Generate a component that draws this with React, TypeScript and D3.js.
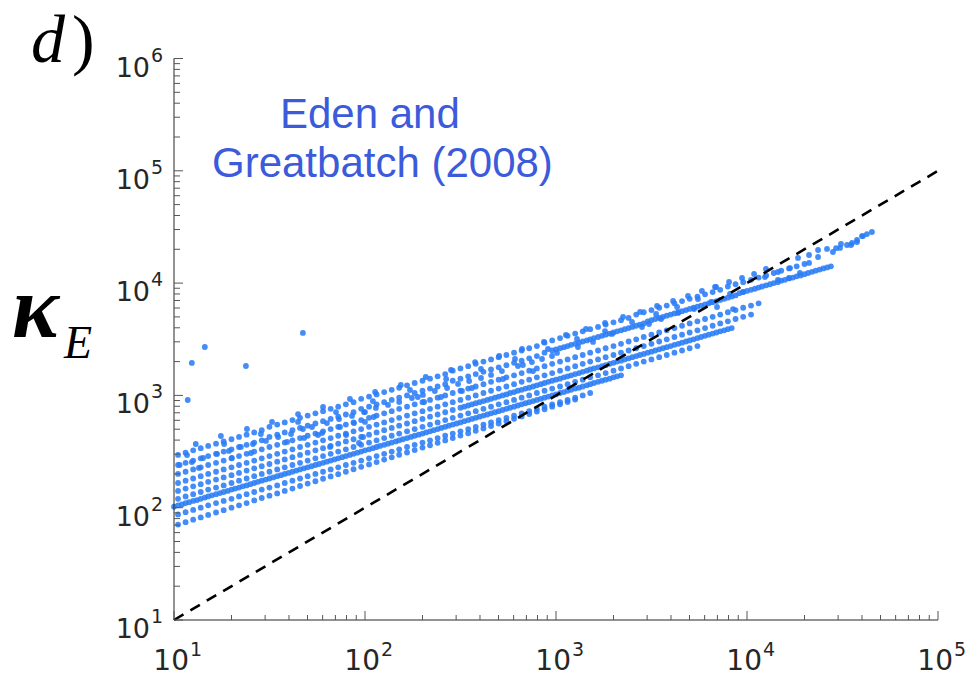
import React from "react";
import * as d3 from "d3";

// shared abscissa grid (x values of the regularly spaced model points)
const X_GRID = [
  10, 10.5, 11, 11.5, 12, 12.6, 13.2, 13.8, 14.5, 15.1, 15.8, 16.6, 17.4, 18.2, 19.1, 20, 20.9, 21.9, 22.9, 24, 25.1, 26.3, 27.5, 28.8, 30.2, 31.6, 33.1, 34.7, 36.3, 38, 39.8, 41.7, 43.7, 45.7, 47.9, 50.1, 52.5, 55, 57.5, 60.3, 63.1, 66.1, 69.2, 72.4, 75.9, 79.4, 83.2, 87.1, 91.2, 95.5,
  100, 105, 110, 115, 120, 126, 132, 138, 145, 151, 158, 166, 174, 182, 191, 200, 209, 219, 229, 240, 251, 263, 275, 288, 302, 316, 331, 347, 363, 380, 398, 417, 437, 457, 479, 501, 525, 550, 575, 603, 631, 661, 692, 724, 759, 794, 832, 871, 912, 955,
  1000, 1050, 1100, 1150, 1200, 1260, 1320, 1380, 1450, 1510, 1580, 1660, 1740, 1820, 1910, 2000, 2090, 2190, 2290, 2400, 2510, 2630, 2750, 2880, 3020, 3160, 3310, 3470, 3630, 3800, 3980, 4170, 4370, 4570, 4790, 5010, 5250, 5500, 5750, 6030, 6310, 6610, 6920, 7240, 7590, 7940, 8320, 8710, 9120, 9550,
  10000, 10500, 11000, 11500, 12000, 12600, 13200, 13800, 14500, 15100, 15800, 16600, 17400, 18200, 19100, 20000, 20900, 21900, 22900, 24000, 25100, 26300, 27500, 28800, 30200, 31600, 33100, 34700, 36300, 38000, 39800, 41700, 43700, 45700,
];

const ROW_A = [70.8, 74.3, 78.2, 82, 86.3, 90.6, 95.1, 100, 105, 110, 116, 122, 128, 134, 141, 148, 156, 164, 172, 181, 190, 199, 209, 220, 231, 243, 255, 268, 281, 296, 310, 326, 343, 360, 378, 397, 417, 439, 460, 484, 508, 533, 561, 589, 619, 650, 682, 718, 753, 793, 832, 873, 918];
const ROW_B = [87.1, 91.2, 95.5, 100, 105, 110, 115, 120, 126, 132, 138, 145, 151, 158, 166, 174, 182, 191, 200, 209, 219, 229, 240, 251, 263, 275, 288, 302, 316, 331, 347, 363, 380, 398, 417, 437, 457, 479, 501, 525, 550, 575, 603, 631, 661, 692, 724, 759, 794, 832, 871, 912, 955, 1000, 1050];
const ROW_C = [102, 105, 107, 110, 112, 115, 117, 120, 123, 126, 129, 132, 135, 138, 141, 145, 148, 151, 155, 158, 162, 166, 170, 174, 178, 182, 186, 191, 195, 200, 204, 209, 214, 219, 224, 229, 234, 240, 245, 251, 257, 263, 269, 275, 282, 288, 295, 302, 309, 316, 324, 331, 339, 347, 355, 363, 372, 380, 389, 398, 407, 417, 427, 437, 447, 457, 468, 479, 490, 501, 513, 525, 537, 550, 562, 575, 589, 603, 617, 631, 646, 661, 676, 692, 708, 724, 741, 759, 776, 794, 813, 832, 851, 871, 891, 912, 933, 955, 977, 1000, 1020, 1050, 1070, 1100, 1120, 1150, 1170, 1200, 1230, 1260, 1290, 1320, 1350, 1380, 1410, 1450, 1480, 1510];
const ROW_D = [120, 126, 132, 138, 145, 151, 158, 166, 174, 182, 191, 200, 209, 219, 229, 240, 251, 263, 275, 288, 302, 316, 331, 347, 363, 380, 398, 417, 437, 457, 479, 501, 525, 550, 575, 603, 631, 661, 692, 724, 759, 794, 832, 871, 912, 955, 1000, 1050, 1100, 1150, 1200, 1260, 1320, 1380, 1450, 1510, 1580, 1660, 1740, 1820, 1910, 2000, 2090, 2190, 2290, 2400, 2510, 2630, 2750];
const ROW_E1 = [141, 148, 155, 162, 170, 178, 186, 195, 204, 214, 224, 234, 245, 257, 269, 282, 295, 309, 324, 339, 355, 372, 389, 407, 427, 447, 468, 490, 513, 537, 562, 589, 617, 646, 676, 708, 741, 776];
const ROW_E2 = [794, 813, 832, 851, 871, 891, 912, 933, 955, 977, 1000, 1020, 1050, 1070, 1100, 1120, 1150, 1170, 1200, 1230, 1260, 1290, 1320, 1350, 1380, 1410, 1450, 1480, 1510, 1550, 1580, 1620, 1660, 1700, 1740, 1780, 1820, 1860, 1910, 1950, 2000, 2040, 2090, 2140, 2190, 2240, 2290, 2340, 2400, 2450, 2510, 2570, 2630, 2690, 2750, 2820, 2880, 2950, 3020, 3090, 3160, 3240, 3310, 3390, 3470, 3550, 3630, 3720, 3800, 3890, 3980];
const ROW_F = [166, 174, 182, 191, 200, 209, 219, 229, 240, 251, 263, 275, 288, 302, 316, 331, 347, 363, 380, 398, 417, 437, 457, 479, 501, 525, 550, 575, 603, 631, 661, 692, 724, 759, 794, 832, 871, 912, 955, 1000, 1050, 1100, 1150, 1200, 1260, 1320, 1380, 1450, 1510, 1580, 1660, 1740, 1820, 1910, 2000, 2090, 2190, 2290, 2400, 2510, 2630, 2750, 2880, 3020, 3160, 3310, 3470, 3630, 3800, 3980, 4170, 4370, 4570, 4790, 5010, 5250];
const ROW_G = [200, 209, 219, 229, 240, 251, 263, 275, 288, 302, 316, 331, 347, 363, 380, 398, 417, 437, 457, 479, 501, 525, 550, 575, 603, 631, 661, 692, 724, 759, 794, 832, 871, 912, 955, 1000, 1050, 1100, 1150, 1200, 1260, 1320, 1380, 1450, 1510, 1580, 1660, 1740, 1820, 1910, 2000, 2090, 2190, 2290, 2400, 2510, 2630, 2750, 2880, 3020, 3160, 3310, 3470, 3630, 3800, 3980, 4170, 4370, 4570, 4790, 5010, 5250, 5500, 5750, 6030, 6310, 6610];
const ROW_H1 = [240, 251, 263, 275, 288, 302, 316, 331, 347, 363, 380, 398, 427, 447, 468, 490, 513, 537, 562, 589, 617, 646, 676, 708, 759, 794, 832, 871, 912, 955, 1000, 1050, 1100, 1150, 1200, 1260, 1350, 1410, 1480, 1550, 1620, 1700, 1780, 1860, 1950, 2040, 2140, 2240, 2400, 2510];
const ROW_H2 = [2570, 2630, 2690, 2750, 2820, 2880, 2950, 3020, 3090, 3160, 3240, 3310, 3390, 3470, 3550, 3630, 3720, 3800, 3890, 3980, 4070, 4170, 4270, 4370, 4570, 4680, 4790, 4900, 5010, 5130, 5250, 5370, 5500, 5620, 5750, 5890, 6030, 6170, 6310, 6460, 6610, 6760, 6920, 7080, 7240, 7410, 7590, 7760, 8130, 8320, 8510, 8710, 8910, 9120, 9330, 9550, 9770, 10000, 10200, 10500, 10700, 11000, 11200, 11500, 11700, 12000, 12300, 12600, 12900, 13200, 13500, 13800, 14100];
const ROW_I = [295, 309, 324, 339, 355, 372, 389, 407, 427, 447, 468, 490, 525, 550, 575, 603, 631, 661, 692, 724, 759, 794, 832, 871, 933, 977, 1020, 1070, 1120, 1170, 1230, 1290, 1350, 1410, 1480, 1550, 1660, 1740, 1820, 1910, 2000, 2090, 2190, 2290, 2400, 2510, 2630, 2750, 2950, 3090, 3240, 3390, 3550, 3720, 3890, 4070, 4270, 4470, 4680, 4900, 5250, 5500, 5750, 6030, 6310, 6610, 6920, 7240, 7590, 7940, 8320, 8710, 9330, 9770, 10200, 10700, 11200, 11700, 12300, 12900, 13500, 14100, 14800];

// which grid index each row starts at, and its grid stride
const ROW_LAYOUT = [
  { from: 1, step: 2, kappa: ROW_A },
  { from: 1, step: 2, kappa: ROW_B },
  { from: 0, step: 1, kappa: ROW_C },
  { from: 1, step: 2, kappa: ROW_D },
  { from: 1, step: 2, kappa: ROW_E1 },
  { from: 76, step: 1, kappa: ROW_E2 },
  { from: 1, step: 2, kappa: ROW_F },
  { from: 1, step: 2, kappa: ROW_G },
  { from: 1, step: 2, kappa: ROW_H1 },
  { from: 100, step: 1, kappa: ROW_H2 },
  { from: 1, step: 2, kappa: ROW_I },
];

// sparse top row
const TOP_X = [13.0, 17.6, 24.1, 32.6, 44.6, 60.3, 83.4, 113, 154, 208, 282, 377, 504, 664, 865, 1127, 1435, 1806, 2244, 2754, 3381, 4102, 4909, 5808, 6887, 8054, 9419, 10890, 12570, 18500, 21130, 23550, 26240, 30690, 33400, 35480, 37670, 40460, 45080];
const TOP_Y = [369, 435, 502, 580, 682, 788, 929, 1072, 1239, 1459, 1683, 1982, 2244, 2590, 2992, 3454, 3902, 4416, 4990, 5534, 6252, 6934, 7674, 8511, 9230, 10230, 11100, 12050, 13370, 16750, 17800, 19720, 20140, 20560, 21840, 22750, 24210, 26240, 28510];

// scattered points
const SCATTER_X = [
  10.7, 11.7, 12.4, 13.5, 14.2, 16.8, 18.3, 19.4, 20.1, 22.4, 25.3, 25.9, 28.5, 30.3, 35.1, 39.1, 41.0, 44.6, 47.3, 48.0, 52.8, 56.8, 59.6, 63.2, 65.6, 70.5, 73.1, 74.0, 79.6, 85.5, 87.6, 93.0, 98.8, 100, 97.7,
  11.8, 12.4, 14.5, 23.8, 47.3,
  110, 114, 100, 111, 132, 151, 172, 176, 189, 201, 204, 232, 250, 266, 269, 307, 322, 351, 363, 405, 405, 457, 521, 528, 610, 632, 671, 748, 758, 845, 908, 953, 1012,
  1288, 1303, 1563, 1806, 1965, 2500, 2820, 3069, 3342, 3548, 4305, 4356, 5284, 5537, 6486, 6799, 6966, 8144, 8446, 9530,
  12410, 14520, 14520, 16600, 16800, 18930, 21130, 23550, 28180, 31040, 35050, 37670, 42460, 39980, 29250,
];
const SCATTER_Y = [
  240, 294, 255, 226, 277, 301, 369, 320, 277, 348, 307, 369, 453, 393, 426, 385, 453, 580, 502, 418, 523, 444, 462, 567, 348, 711, 616, 523, 444, 656, 567, 377, 711, 580, 426,
  910, 1945, 2698, 1828, 3597,
  891, 773, 711, 642, 822, 873, 1117, 948, 968, 1009, 873, 1094, 968, 1400, 1164, 1265, 1094, 1343, 1164, 1718, 1429, 1521, 1648, 1400, 2109, 1828, 1866, 1982, 1648, 2109, 2588, 2244, 2387,
  3177, 2698, 2992, 3741, 3524, 4508, 4066, 4325, 5309, 4790, 6124, 5420, 5875, 7214, 6792, 9230, 6124, 7998, 5875, 8337,
  11320, 12560, 10670, 11100, 13620, 12300, 15110, 17070, 18920, 22290, 21840, 23210, 27350, 26240, 20470,
];

const X_TICK_EXP = [1, 2, 3, 4, 5];
const Y_TICK_EXP = [1, 2, 3, 4, 5, 6];
const REF_LINE = [10, 1e5];

export default function App() {
  const W = 967;
  const H = 678;
  const x = d3.scaleLog().domain([10, 1e5]).range([174, 938]);
  const y = d3.scaleLog().domain([10, 1e6]).range([620, 58.5]);

  const pts: [number, number][] = [];
  ROW_LAYOUT.forEach((r) => {
    r.kappa.forEach((k, j) => {
      const xv = X_GRID[r.from + j * r.step];
      if (xv !== undefined) pts.push([xv, k]);
    });
  });
  TOP_X.forEach((v, i) => pts.push([v, TOP_Y[i]]));
  SCATTER_X.forEach((v, i) => pts.push([v, SCATTER_Y[i]]));

  const isMajor = (v: number) => Math.abs(Math.log10(v) - Math.round(Math.log10(v))) < 1e-6;
  const axisColor = "#262626";
  const tickFont = "DejaVu Sans";

  return (
    <svg width={W} height={H} style={{ position: "absolute", left: 0, top: 0, background: "#fff" }}>
      <rect width={W} height={H} fill="#fff" />
      {/* points */}
      <g>
        {pts.map((p, i) => (
          <circle key={i} cx={x(p[0])} cy={y(p[1])} r={2.9} fill="#2a7cf6" fillOpacity={0.88} />
        ))}
      </g>
      {/* y = x reference */}
      <line
        x1={x(REF_LINE[0])}
        y1={y(REF_LINE[0])}
        x2={x(REF_LINE[1])}
        y2={y(REF_LINE[1])}
        stroke="#000"
        strokeWidth={2.6}
        strokeDasharray="11,8"
      />
      {/* axes */}
      <line x1={174} y1={y(1e6)} x2={174} y2={620} stroke={axisColor} strokeWidth={1} />
      <line x1={174} y1={620} x2={938} y2={620} stroke={axisColor} strokeWidth={1} />
      {y.ticks().map((t, i) => (
        <line key={"yt" + i} x1={174} x2={174 + (isMajor(t) ? 9 : 6)} y1={y(t)} y2={y(t)} stroke="#555" strokeWidth={1} />
      ))}
      {x.ticks().map((t, i) => (
        <line key={"xt" + i} x1={x(t)} x2={x(t)} y1={620} y2={620 - (isMajor(t) ? 9 : 5)} stroke="#555" strokeWidth={1} />
      ))}
      {Y_TICK_EXP.map((e) => {
        const ty = y(Math.pow(10, e));
        return (
          <g key={"yl" + e} fill={axisColor} fontFamily={tickFont}>
            <text x={150} y={ty + 18} fontSize={27} textAnchor="end">10</text>
            <text x={151} y={ty + 3} fontSize={19}>{e}</text>
          </g>
        );
      })}
      {X_TICK_EXP.map((e) => {
        const tx = x(Math.pow(10, e));
        return (
          <g key={"xl" + e} fill={axisColor} fontFamily={tickFont}>
            <text x={tx + 15} y={670} fontSize={28} textAnchor="end">10</text>
            <text x={tx + 16} y={656} fontSize={19}>{e}</text>
          </g>
        );
      })}
      {/* panel label */}
      <text x={31} y={62} fontFamily="Liberation Serif" fontSize={68} fontStyle="italic" fill="#000">d</text>
      <text x={72} y={62} fontFamily="Liberation Serif" fontSize={68} fill="#000">)</text>
      {/* y label */}
      <text x={12} y={337} fontFamily="Liberation Serif" fontSize={88} fontStyle="italic" fontWeight="bold" fill="#000">κ</text>
      <text x={64} y={358} fontFamily="Liberation Serif" fontSize={46} fontStyle="italic" fill="#000">E</text>
      {/* annotation */}
      <text x={280} y={128} fontFamily="Liberation Sans" fontSize={42} fill="#3b5bdb">Eden and</text>
      <text x={212} y={177} fontFamily="Liberation Sans" fontSize={42} fill="#3b5bdb">Greatbatch (2008)</text>
    </svg>
  );
}
